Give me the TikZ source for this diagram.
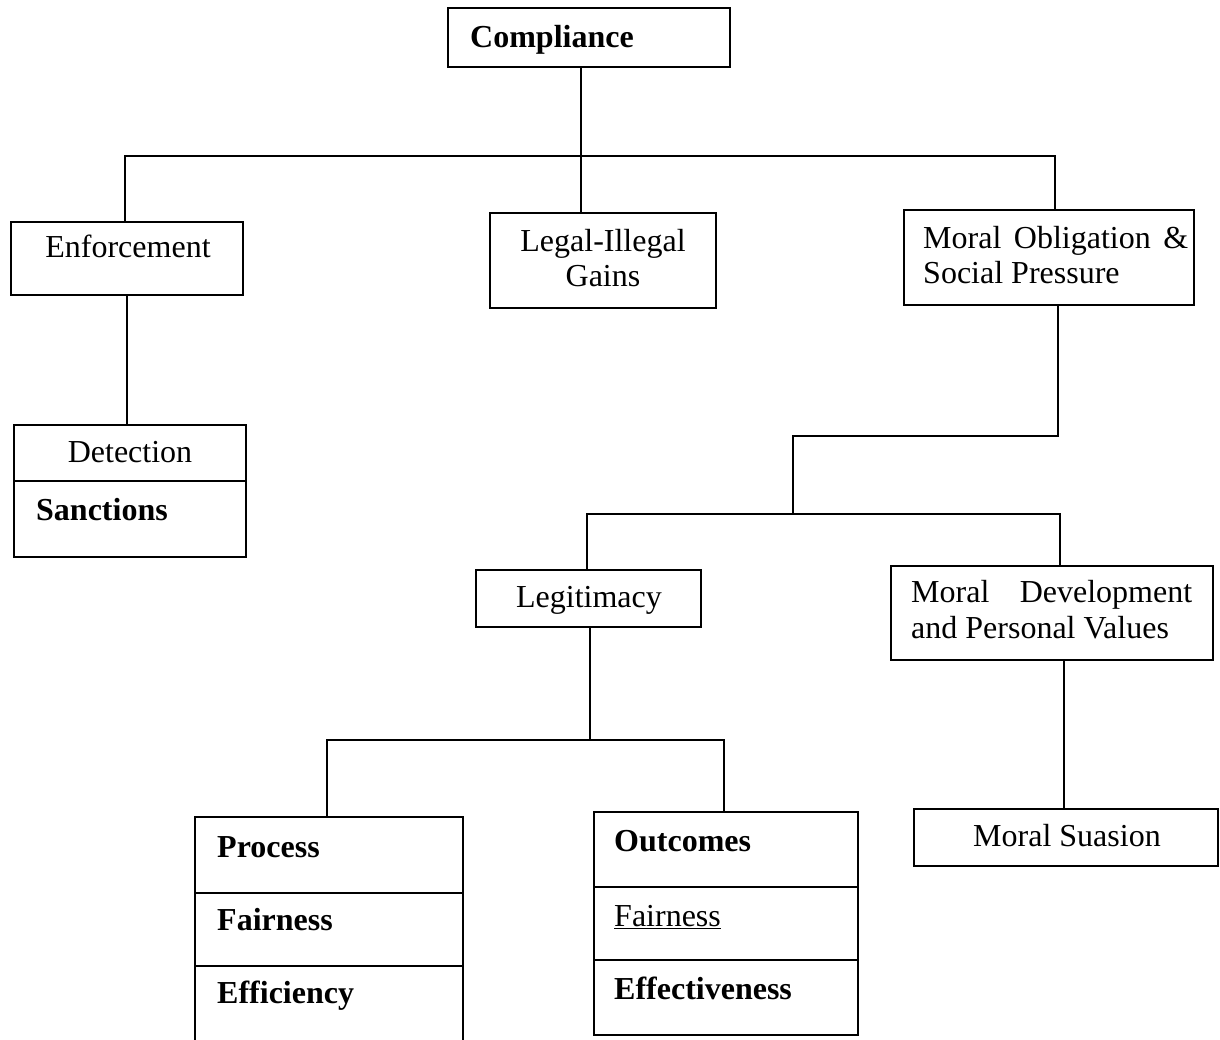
\documentclass[tikz,border=0pt]{standalone}
\usepackage{fontspec}
\setmainfont{Liberation Serif}
\begin{document}
\begin{tikzpicture}[x=1pt,y=-1pt,
  box/.style={draw, rectangle, line width=2.5pt, inner sep=0pt, outer sep=0pt, anchor=north west},
  lbl/.style={inner sep=0pt, anchor=base, font=\fontsize{32}{36}\selectfont},
  lbll/.style={lbl, anchor=base west},
  link/.style={line width=2.4pt}]
\useasboundingbox (0,0) rectangle (1220,1039);
\clip (0,0) rectangle (1220,1039);
\fill[white] (0,0) rectangle (1220,1039);

% boxes
\node[box, minimum width=282pt, minimum height=59pt] (comp) at (448,8) {};
\node[box, minimum width=232pt, minimum height=73pt] (enf) at (11,222) {};
\node[box, minimum width=226pt, minimum height=95pt] (legal) at (490,213) {};
\node[box, minimum width=290pt, minimum height=95pt] (mop) at (904,210) {};
\node[box, minimum width=232pt, minimum height=132pt] (det) at (14,425) {};
\node[box, minimum width=225pt, minimum height=57pt] (leg) at (476,570) {};
\node[box, minimum width=322pt, minimum height=94pt] (mdv) at (891,566) {};
\node[box, minimum width=304pt, minimum height=57pt] (ms) at (914,809) {};
\node[box, minimum width=268pt, minimum height=240pt] (proc) at (195,817) {};
\node[box, minimum width=264pt, minimum height=223pt] (outc) at (594,812) {};

% dividers inside the stacked boxes
\draw[link] (det.west |- 0,481) -- (det.east |- 0,481);
\draw[link] (proc.west |- 0,893) -- (proc.east |- 0,893);
\draw[link] (proc.west |- 0,966) -- (proc.east |- 0,966);
\draw[link] (outc.west |- 0,887) -- (outc.east |- 0,887);
\draw[link] (outc.west |- 0,960) -- (outc.east |- 0,960);

% junction points
\coordinate (j0) at (581,156);
\coordinate (jL) at (125,156);
\coordinate (jR) at (1055,156);
\coordinate (m1) at (1058,436);
\coordinate (m2) at (793,436);
\coordinate (m3) at (793,514);
\coordinate (kL) at (587,514);
\coordinate (kR) at (1060,514);
\coordinate (sv) at (1064,700);
\coordinate (n0) at (590,740);
\coordinate (nL) at (327,740);
\coordinate (nR) at (724,740);

% connectors
\draw[link] (comp.south -| j0) -- (legal.north -| j0);
\draw[link] (enf.north -| jL) -- (jL) -- (jR) -- (mop.north -| jR);
\draw[link] (enf.south) -- (det.north -| enf.south);
\draw[link] (mop.south -| m1) -- (m1) -- (m2) -- (m3);
\draw[link] (leg.north -| kL) -- (kL) -- (kR) -- (mdv.north -| kR);
\draw[link] (mdv.south -| sv) -- (ms.north -| sv);
\draw[link] (leg.south -| n0) -- (n0);
\draw[link] (proc.north -| nL) -- (nL) -- (nR) -- (outc.north -| nR);

% labels
\node[lbll] (comp-t) at (470,47) {\bfseries Compliance};
\node[lbl] (enf-t) at (128,257) {Enforcement};
\node[lbl] (legal-t1) at (603,251) {Legal-Illegal};
\node[lbl] (legal-t2) at (603,286) {Gains};
\node[lbll] (mop-t1) at (923,248) {\makebox[265pt][s]{Moral Obligation \&}};
\node[lbll] (mop-t2) at (923,283) {Social Pressure};
\node[lbl] (det-t) at (130,462) {Detection};
\node[lbll] (san-t) at (36,520) {\bfseries Sanctions};
\node[lbl] (leg-t) at (589,607) {Legitimacy};
\node[lbll] (mdv-t1) at (911,602) {\makebox[281pt][s]{Moral Development}};
\node[lbll] (mdv-t2) at (911,638) {and Personal Values};
\node[lbl] (ms-t) at (1067,846) {Moral Suasion};
\node[lbll] (proc-t1) at (217,857) {\bfseries Process};
\node[lbll] (proc-t2) at (217,930) {\bfseries Fairness};
\node[lbll] (proc-t3) at (217,1003) {\bfseries Efficiency};
\node[lbll] (outc-t1) at (614,851) {\bfseries Outcomes};
\node[lbll] (outc-t2) at (614,926) {\underline{Fairness}};
\node[lbll] (outc-t3) at (614,999) {\bfseries Effectiveness};
\end{tikzpicture}
\end{document}
